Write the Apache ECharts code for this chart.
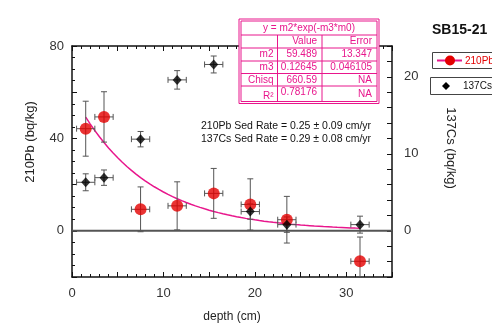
<!DOCTYPE html>
<html>
<head>
<meta charset="utf-8">
<script src="https://cdn.jsdelivr.net/npm/echarts@6/dist/echarts.min.js"></script>
<style>
  html, body { margin: 0; padding: 0; background: #fff; }
  #chart { width: 492px; height: 328px; }
</style>
</head>
<body>
<div id="chart"></div>
<script>
// Core SB15-21: activity profiles against depth
const depth = [1.5, 3.5, 7.5, 11.5, 15.5, 19.5, 23.5, 31.5];
const depthErr = [1, 1, 1, 1, 1, 1, 1, 1];

// 210Pb excess activity (bq/kg), left axis
const pb210 = [44.2, 49.3, 9.3, 10.8, 16.2, 11.4, 4.8, -13.2];
const pb210Err = [11.9, 10.9, 9.7, 10.4, 10.8, 11.1, 10.1, 10.5];

// 137Cs activity (bq/kg), right axis
const cs137 = [6.3, 6.9, 11.9, 19.6, 21.6, 2.5, 0.8, 0.8];
const cs137Err = [1.1, 1.0, 1.0, 1.2, 1.1, 1.0, 1.0, 1.1];

// Exponential fit y = m2*exp(-m3*x)
const fitM2 = 59.489;
const fitM3 = 0.12645;
const fitRange = [1.5, 31.5];

// Fit statistics table rows
const tableRows = [
  ['m2', '59.489', '13.347'],
  ['m3', '0.12645', '0.046105'],
  ['Chisq', '660.59', 'NA'],
  ['R²', '0.78176', 'NA']
];

const rateLines = [
  '210Pb Sed Rate = 0.25 ± 0.09 cm/yr',
  '137Cs Sed Rate = 0.29 ± 0.08 cm/yr'
];

const axisTitles = { x: 'depth (cm)', left: '210Pb (bq/kg)', right: '137Cs (bq/kg)' };

const FONT = 'Liberation Sans, Arial, Helvetica, sans-serif';
const PINK = '#e8168c';

const fitLine = [];
for (let i = 0; i <= 60; i++) {
  const x = fitRange[0] + (fitRange[1] - fitRange[0]) * i / 60;
  fitLine.push([x, fitM2 * Math.exp(-fitM3 * x)]);
}

const pbData = depth.map((d, i) => [d, pb210[i], depthErr[i], pb210Err[i]]);
const csData = depth.map((d, i) => [d, cs137[i], depthErr[i], cs137Err[i]]);

function errorBars(params, api) {
  const x = api.value(0), y = api.value(1), ex = api.value(2), ey = api.value(3);
  const top = api.coord([x, y + ey]);
  const bot = api.coord([x, y - ey]);
  const lft = api.coord([x - ex, y]);
  const rgt = api.coord([x + ex, y]);
  const cap = 3;
  const style = { stroke: '#555', lineWidth: 1 };
  const line = (x1, y1, x2, y2) => ({ type: 'line', shape: { x1, y1, x2, y2 }, style });
  return {
    type: 'group',
    children: [
      line(top[0], top[1], bot[0], bot[1]),
      line(top[0] - cap, top[1], top[0] + cap, top[1]),
      line(bot[0] - cap, bot[1], bot[0] + cap, bot[1]),
      line(lft[0], lft[1], rgt[0], rgt[1]),
      line(lft[0], lft[1] - cap, lft[0], lft[1] + cap),
      line(rgt[0], rgt[1] - cap, rgt[0], rgt[1] + cap)
    ]
  };
}

const axisLineStyle = { show: true, onZero: false, lineStyle: { color: '#111', width: 1.5 } };
const tickStyle = { show: true, inside: true, length: 5, lineStyle: { color: '#111', width: 1 } };
const minorStyle = { show: true, length: 3, lineStyle: { color: '#111', width: 1 } };

// Fit statistics table drawn as graphic elements
const tbl = { x0: 241, x1: 277.5, x2: 322, x3: 377, rows: [21, 35, 48, 61, 73.5, 86, 101.5] };
const tableGraphics = [];
tableGraphics.push({ type: 'rect', shape: { x: tbl.x0 - 2, y: tbl.rows[0] - 2, width: tbl.x3 - tbl.x0 + 4, height: tbl.rows[6] - tbl.rows[0] + 4 }, style: { fill: '#fff', stroke: PINK, lineWidth: 1 }, z: 10 });
tableGraphics.push({ type: 'rect', shape: { x: tbl.x0, y: tbl.rows[0], width: tbl.x3 - tbl.x0, height: tbl.rows[6] - tbl.rows[0] }, style: { fill: 'none', stroke: PINK, lineWidth: 1 }, z: 10 });
for (let r = 1; r < 6; r++) {
  tableGraphics.push({ type: 'line', shape: { x1: tbl.x0, y1: tbl.rows[r], x2: tbl.x3, y2: tbl.rows[r] }, style: { stroke: PINK, lineWidth: 1 }, z: 10 });
}
[tbl.x1, tbl.x2].forEach(cx => {
  tableGraphics.push({ type: 'line', shape: { x1: cx, y1: tbl.rows[1], x2: cx, y2: tbl.rows[6] }, style: { stroke: PINK, lineWidth: 1 }, z: 10 });
});
const cellText = (text, x, y, align) => ({
  type: 'text', x, y, z: 11,
  style: { text, fill: PINK, font: '10px ' + FONT, textAlign: align, textVerticalAlign: 'middle' }
});
tableGraphics.push(cellText('y = m2*exp(-m3*m0)', (tbl.x0 + tbl.x3) / 2, (tbl.rows[0] + tbl.rows[1]) / 2, 'center'));
tableGraphics.push(cellText('Value', tbl.x2 - 5, (tbl.rows[1] + tbl.rows[2]) / 2, 'right'));
tableGraphics.push(cellText('Error', tbl.x3 - 5, (tbl.rows[1] + tbl.rows[2]) / 2, 'right'));
tableRows.forEach((row, i) => {
  const yc = (tbl.rows[i + 2] + tbl.rows[i + 3]) / 2;
  tableGraphics.push(cellText(row[0], tbl.x1 - 4, i === 3 ? yc + 2 : yc, 'right'));
  tableGraphics.push(cellText(row[1], tbl.x2 - 5, i === 3 ? yc - 2 : yc, 'right'));
  tableGraphics.push(cellText(row[2], tbl.x3 - 5, yc, 'right'));
});

const chart = echarts.init(document.getElementById('chart'), null, { renderer: 'canvas' });

chart.setOption({
  backgroundColor: '#fff',
  animation: false,
  grid: { left: 72, right: 100, top: 46, bottom: 49 },
  xAxis: [
    {
      type: 'value', min: 0, max: 35, interval: 5, position: 'bottom',
      name: axisTitles.x, nameLocation: 'middle', nameGap: 34,
      nameTextStyle: { fontFamily: FONT, fontSize: 12, color: '#222' },
      axisLine: axisLineStyle, axisTick: tickStyle,
      minorTick: Object.assign({ splitNumber: 5 }, minorStyle),
      splitLine: { show: false },
      axisLabel: {
        fontFamily: FONT, fontSize: 13, color: '#333', margin: 10,
        formatter: v => (v % 10 === 0 ? String(v) : '')
      }
    },
    {
      type: 'value', min: 0, max: 35, interval: 5, position: 'top',
      axisLine: axisLineStyle, axisTick: tickStyle,
      minorTick: Object.assign({ splitNumber: 5 }, minorStyle),
      splitLine: { show: false }, axisLabel: { show: false }
    }
  ],
  yAxis: [
    {
      type: 'value', min: -20, max: 80, interval: 20, position: 'left',
      axisLine: axisLineStyle, axisTick: tickStyle,
      minorTick: Object.assign({ splitNumber: 4 }, minorStyle),
      splitLine: { show: false },
      axisLabel: {
        fontFamily: FONT, fontSize: 13, color: '#333', margin: 8,
        formatter: v => (v % 40 === 0 ? String(v) : '')
      }
    },
    {
      type: 'value', min: -6, max: 24, interval: 2, position: 'right',
      axisLine: axisLineStyle, axisTick: tickStyle,
      minorTick: { show: false },
      splitLine: { show: false },
      axisLabel: {
        fontFamily: FONT, fontSize: 13, color: '#333', margin: 12,
        formatter: v => (v % 10 === 0 ? String(v) : '')
      }
    }
  ],
  series: [
    {
      type: 'line', xAxisIndex: 0, yAxisIndex: 0, data: [[0, 0], [35, 0]],
      symbol: 'none', lineStyle: { color: '#555', width: 2 }, z: 1, silent: true
    },
    {
      type: 'line', xAxisIndex: 0, yAxisIndex: 0, data: fitLine,
      symbol: 'none', lineStyle: { color: PINK, width: 1.5 }, z: 2
    },
    {
      type: 'custom', xAxisIndex: 0, yAxisIndex: 0, data: pbData,
      renderItem: errorBars, clip: true, z: 3
    },
    {
      type: 'scatter', xAxisIndex: 0, yAxisIndex: 0, data: pbData.map(d => [d[0], d[1]]),
      symbol: 'circle', symbolSize: 12, itemStyle: { color: '#e30000' }, z: 5
    },
    {
      type: 'custom', xAxisIndex: 0, yAxisIndex: 1, data: csData,
      renderItem: errorBars, clip: true, z: 3
    },
    {
      type: 'scatter', xAxisIndex: 0, yAxisIndex: 1, data: csData.map(d => [d[0], d[1]]),
      symbol: 'diamond', symbolSize: [9, 10], itemStyle: { color: '#000' }, z: 6
    }
  ],
  graphic: [
    {
      type: 'text', x: 30, y: 142, rotation: Math.PI / 2,
      style: { text: axisTitles.left, fill: '#222', font: '13px ' + FONT, textAlign: 'center', textVerticalAlign: 'middle' }
    },
    {
      type: 'text', x: 451, y: 148, rotation: -Math.PI / 2,
      style: { text: axisTitles.right, fill: '#222', font: '13px ' + FONT, textAlign: 'center', textVerticalAlign: 'middle' }
    },
    {
      type: 'text', x: 432, y: 30,
      style: { text: 'SB15-21', fill: '#111', font: 'bold 14px ' + FONT, textVerticalAlign: 'middle' }
    },
    {
      type: 'rect', shape: { x: 432.5, y: 52.5, width: 64, height: 16 },
      style: { fill: '#fff', stroke: '#444', lineWidth: 1 }
    },
    {
      type: 'line', shape: { x1: 437, y1: 60.5, x2: 462, y2: 60.5 },
      style: { stroke: PINK, lineWidth: 2 }
    },
    {
      type: 'circle', shape: { cx: 450, cy: 60.5, r: 5 },
      style: { fill: '#e30000' }
    },
    {
      type: 'text', x: 465, y: 61,
      style: { text: '210Pb', fill: '#e30000', font: '10px ' + FONT, textVerticalAlign: 'middle' }
    },
    {
      type: 'rect', shape: { x: 430.5, y: 77.5, width: 66, height: 17 },
      style: { fill: '#fff', stroke: '#444', lineWidth: 1 }
    },
    {
      type: 'polygon', shape: { points: [[446, 82], [450, 86], [446, 90], [442, 86]] },
      style: { fill: '#000' }
    },
    {
      type: 'text', x: 463, y: 86,
      style: { text: '137Cs', fill: '#111', font: '10px ' + FONT, textVerticalAlign: 'middle' }
    },
    {
      type: 'text', x: 201, y: 126,
      style: { text: rateLines[0], fill: '#111', font: '10.5px ' + FONT, textVerticalAlign: 'middle' }
    },
    {
      type: 'text', x: 201, y: 139,
      style: { text: rateLines[1], fill: '#111', font: '10.5px ' + FONT, textVerticalAlign: 'middle' }
    }
  ].concat(tableGraphics)
});
</script>
</body>
</html>
